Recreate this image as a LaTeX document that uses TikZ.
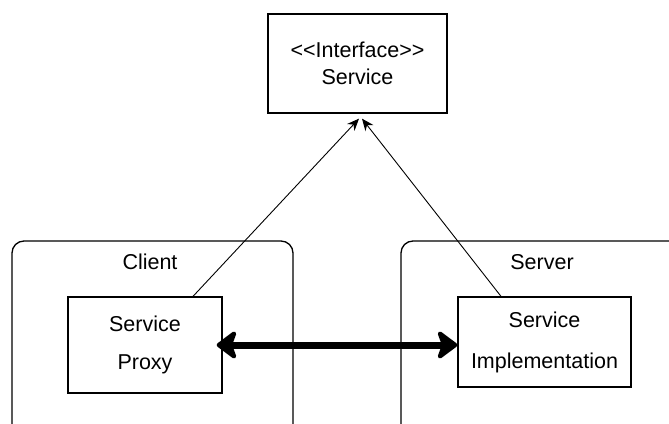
\documentclass[tikz,border=0pt]{standalone}
\usepackage{fontspec}
\setmainfont{Liberation Sans}
\usetikzlibrary{arrows.meta}
\begin{document}
\begin{tikzpicture}[x=1pt,y=-1pt,
  box/.style={draw,line width=1.3pt,inner sep=0pt,align=center},
  frame/.style={draw,line width=1.3pt,rounded corners=12pt},
  lbl/.style={font=\fontsize{21.5}{24}\selectfont},
  realize/.style={line width=0.9pt,-{Stealth[length=12pt,width=10pt]}},
  comm/.style={line width=7pt,{Stealth[length=23pt,width=34pt,inset=6pt,round]}-{Stealth[length=23pt,width=34pt,inset=6pt,round]}}]
\useasboundingbox (0,0) rectangle (669,423);
\clip (0,0) rectangle (669,423);
% containers
\draw[frame] (12,440) -- (12,241) -- (293,241) -- (293,440);
\draw[frame] (401,440) -- (401,241) -- (700,241);
\node[lbl] (clientlbl) at (150,262) {Client};
\node[lbl] (serverlbl) at (542,262) {Server};
% boxes
\node[box,minimum width=179pt,minimum height=99pt,font=\fontsize{21.5}{27}\selectfont] (iface) at (357.5,63.5) {<\kern0pt<Interface>\kern0pt>\\Service};
\node[box,minimum width=154pt,minimum height=96pt,font=\fontsize{21.5}{38}\selectfont] (proxy) at (145,345) {Service\\Proxy};
\node[box,minimum width=173pt,minimum height=90pt,font=\fontsize{21.5}{41}\selectfont] (impl) at (544.5,342) {Service\\Implementation};
% connectors
\draw[realize] ([xshift=48pt]proxy.north) -- ([xshift=1.5pt,yshift=-5pt]iface.south);
\draw[realize] ([xshift=-43.5pt]impl.north) -- ([xshift=4.5pt,yshift=-5pt]iface.south);
\draw[comm] ([xshift=-6pt]proxy.east) -- (impl.west |- proxy.east);
\end{tikzpicture}
\end{document}
